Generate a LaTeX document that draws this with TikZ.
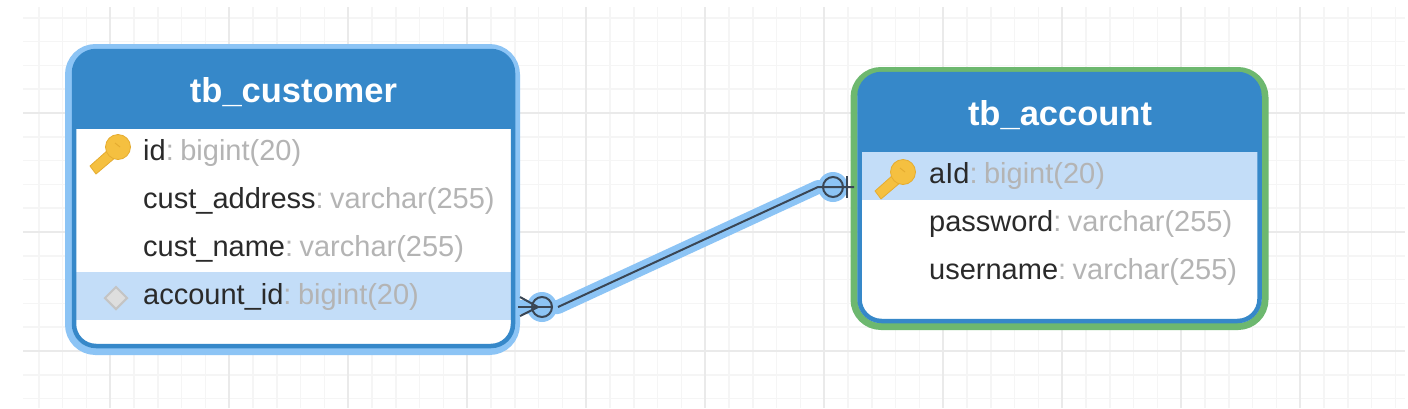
\documentclass[tikz,border=0pt]{standalone}
\usepackage{fontspec}
\setmainfont{Liberation Sans}
\usetikzlibrary{shapes.geometric}
\definecolor{hdr}{HTML}{3688C9}
\definecolor{glowb}{HTML}{8CC4F5}
\definecolor{selg}{HTML}{6DB86F}
\definecolor{rowsel}{HTML}{C3DDF8}
\definecolor{gmin}{HTML}{F5F5F5}
\definecolor{gmaj}{HTML}{EAEAEA}
\definecolor{typec}{HTML}{B4B4B4}
\definecolor{namec}{HTML}{2A2A2A}
\definecolor{keyc}{HTML}{F5C040}
\definecolor{keyd}{HTML}{E5AC30}
\definecolor{linkc}{HTML}{3A4654}
\definecolor{diaf}{HTML}{DEDEDE}
\definecolor{diad}{HTML}{C4C4C4}
\tikzset{
  x=1pt,y=-1pt,
  fieldtext/.style={anchor=base west,inner sep=0pt,font=\fontsize{29}{31}\selectfont,text=namec},
  titletext/.style={anchor=base,inner sep=0pt,font=\fontsize{34.5}{36}\selectfont\bfseries,text=white},
  rowband/.style={fill=rowsel,draw=none},
  outerframe/.style={line width=7pt,rounded corners=27pt,anchor=north west,inner sep=0pt,outer sep=0pt},
  glowline/.style={draw=glowb,line width=14pt,line join=round},
  linkline/.style={draw=linkc,line width=2pt,line join=round},
  ringglow/.style={circle,fill=glowb,minimum size=30pt,inner sep=0pt,outer sep=0pt},
  ringmark/.style={circle,draw=linkc,line width=2pt,minimum size=20pt,inner sep=0pt,outer sep=0pt},
}
\newcommand{\keyicon}[2]{%
  \begin{scope}[shift={(#1,#2)}]
    \fill[keyc,draw=keyd,line width=0.8pt,line join=round]
      (-28,19) -- (-10,3) -- (-2,10) -- (-22,27) -- cycle;
    \fill[keyc,draw=keyd,line width=0.8pt] (0,0) circle[radius=12.5];
    \draw[keyd,line width=1pt] (-3,-4) -- (2,0);
  \end{scope}}
\newcommand{\ftxt}[2]{#1\textcolor{typec}{:\kern6.5pt #2}}
\begin{document}
\begin{tikzpicture}
\useasboundingbox (0,0) rectangle (1408,408);
\fill[white] (0,0) rectangle (1408,408);
% grid
\foreach \i in {1,...,58}{\draw[gmin,line width=1.5pt] ({15+23.8*\i},7) -- ({15+23.8*\i},408);}
\foreach \i in {0,...,16}{\draw[gmin,line width=1.5pt] (23,{17.8+23.8*\i}) -- (1405,{17.8+23.8*\i});}
\foreach \i in {0,...,11}{\draw[gmaj,line width=1.5pt] ({110+119*\i},7) -- ({110+119*\i},408);}
\foreach \y in {113,232,351}{\draw[gmaj,line width=1.5pt] (23,\y) -- (1405,\y);}
% tb_customer
\node[outerframe,draw=glowb,minimum width=448pt,minimum height=304pt] (customer) at (68.5,47.5) {};
\path[fill=white,rounded corners=22pt] (74,51) rectangle (513,346);
\begin{scope}
\clip[rounded corners=22pt] (74,51) rectangle (513,346);
\fill[hdr] (74,51) rectangle (513,129);
\fill[rowband] (74,272) rectangle (513,320);
\end{scope}
\draw[hdr,line width=4.5pt,rounded corners=22pt] (74,51) rectangle (513,346);
\node[titletext] (ctitle) at (293.5,102) {tb\_customer};
\node[fieldtext] (c1) at (143,160) {\ftxt{id}{bigint(20)}};
\node[fieldtext] (c2) at (143,208) {\ftxt{cust\_address}{varchar(255)}};
\node[fieldtext] (c3) at (143,256) {\ftxt{cust\_name}{varchar(255)}};
\node[fieldtext] (c4) at (143,304) {\ftxt{account\_id}{bigint(20)}};
\keyicon{118}{147}
\node[diamond,draw=diad,fill=diaf,line width=2pt,minimum width=23pt,minimum height=23pt,inner sep=0pt] (fk) at (116,298) {};
% tb_account
\node[outerframe,draw=selg,minimum width=411pt,minimum height=256pt] (account) at (854,70.5) {};
\path[fill=white,rounded corners=22pt] (859.5,74) rectangle (1259.5,321);
\begin{scope}
\clip[rounded corners=22pt] (859.5,74) rectangle (1259.5,321);
\fill[hdr] (859.5,74) rectangle (1259.5,152);
\fill[rowband] (859.5,152) rectangle (1259.5,200);
\end{scope}
\draw[hdr,line width=4.5pt,rounded corners=22pt] (859.5,74) rectangle (1259.5,321);
\node[titletext] (atitle) at (1060,125) {tb\_account};
\node[fieldtext] (a1) at (929,183) {\ftxt{aId}{bigint(20)}};
\node[fieldtext] (a2) at (929,231) {\ftxt{password}{varchar(255)}};
\node[fieldtext] (a3) at (929,279) {\ftxt{username}{varchar(255)}};
\keyicon{903}{172}
% connector
\coordinate (fkend) at (518,307);
\coordinate (fkbend) at (558,307);
\coordinate (pkbend) at (818,187);
\coordinate (pkend) at (854,187);
\coordinate (crowa) at (520,297);
\coordinate (crowb) at (520,316);
\coordinate (crowtip) at (538,307);
\coordinate (bartop) at (847,176);
\coordinate (barbot) at (847,198);
\node[ringglow] (fkring) at (542,307) {};
\node[ringglow] (pkring) at (833,187) {};
\draw[glowline] (fkend) -- (fkbend) -- (pkbend) -- (pkring.center);
\node[ringmark] (fko) at (542,307) {};
\node[ringmark] (pko) at (833,187) {};
\draw[linkline] (fkbend) -- (pkbend) -- (pkend);
\draw[linkline] (fkend) -- (fko.east);
\draw[linkline] (crowa) -- (crowtip) -- (crowb);
\draw[linkline] (bartop) -- (barbot);
\end{tikzpicture}
\end{document}
